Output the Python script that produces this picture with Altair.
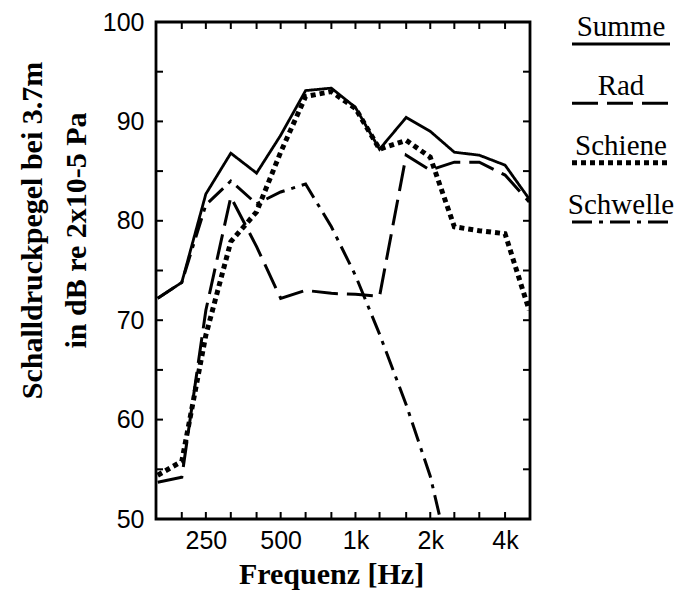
import altair as alt
import pandas as pd

freqs = [160, 200, 250, 315, 400, 500, 630, 800, 1000, 1250, 1600, 2000, 2500, 3150, 4000, 5000]
summe    = [72.2, 73.8, 82.7, 86.8, 84.8, 88.6, 93.1, 93.35, 91.4, 87.2, 90.4, 89.0, 86.9, 86.6, 85.6, 82.2]
rad      = [53.7, 54.2, 71.0, 82.4, 77.4, 72.2, 73.0, 72.7, 72.6, 72.4, 86.6, 85.1, 85.9, 85.9, 84.6, 81.9]
schiene  = [54.4, 55.8, 68.5, 77.9, 80.9, 86.9, 92.5, 93.0, 91.3, 87.2, 88.1, 86.4, 79.4, 79.0, 78.7, 71.0]
schwelle = [72.2, 73.8, 81.6, 84.0, 81.7, 82.9, 83.7, 79.4, 74.5, 68.6, 61.5, 54.3, 44.0]

names = ["Summe", "Rad", "Schiene", "Schwelle"]
x_tick_labels = [250, 500, 1000, 2000, 4000]
x_minor = [200, 250, 315, 400, 500, 630, 800, 1000, 1250, 1600, 2000, 2500, 3150, 4000]
y_ticks = [55, 60, 65, 70, 75, 80, 85, 90, 95]
y_labels = [50, 60, 70, 80, 90, 100]

series_vals = dict(zip(names, [summe, rad, schiene, schwelle]))
styles = {
    "Summe":    dict(strokeDash=[1, 0], strokeWidth=2.8),
    "Rad":      dict(strokeDash=[26, 9], strokeWidth=3),
    "Schiene":  dict(strokeDash=[5, 4], strokeWidth=5),
    "Schwelle": dict(strokeDash=[20, 7, 4, 7], strokeWidth=3),
}

W, H = 374, 497
xscale = alt.Scale(type="log", base=2, domain=[157.5, 5040], nice=False)
yscale = alt.Scale(domain=[50, 100], nice=False)

x_enc = alt.X("f:Q", scale=xscale, title="Frequenz [Hz]",
              axis=alt.Axis(values=x_tick_labels, ticks=False, domain=False, grid=False,
                            labelExpr="datum.value >= 1000 ? (datum.value/1000) + 'k' : datum.value",
                            labelFont="Liberation Sans", labelFontSize=25, labelColor="black",
                            labelPadding=9, labelFlush=False,
                            titleFont="Liberation Serif", titleFontSize=30, titleFontWeight="bold",
                            titleColor="black", titlePadding=6, titleX=175))
y_enc = alt.Y("L:Q", scale=yscale,
              title=["Schalldruckpegel bei 3.7m", "in dB re 2x10-5 Pa"],
              axis=alt.Axis(values=y_labels, ticks=False, domain=False, grid=False,
                            labelFont="Liberation Sans", labelFontSize=25, labelColor="black",
                            labelPadding=12,
                            titleFont="Liberation Serif", titleFontSize=30, titleFontWeight="bold",
                            titleColor="black", titlePadding=11, titleLineHeight=44,
                            titleY=208))

layers = []
for name in names:
    d = pd.DataFrame({"f": freqs[:len(series_vals[name])], "L": series_vals[name]})
    layers.append(alt.Chart(d).mark_line(color="black", clip=True, **styles[name]).encode(
        x=x_enc, y=y_enc))

xt = pd.DataFrame({"f": x_minor})
yt = pd.DataFrame({"L": y_ticks})
tick_style = dict(color="black", thickness=2, size=14, clip=True, opacity=1)
layers.append(alt.Chart(xt).mark_tick(orient="vertical", **tick_style).encode(
    x=alt.X("f:Q", scale=xscale), y=alt.value(0)))
layers.append(alt.Chart(xt).mark_tick(orient="vertical", **tick_style).encode(
    x=alt.X("f:Q", scale=xscale), y=alt.value(H)))
layers.append(alt.Chart(yt).mark_tick(orient="horizontal", **tick_style).encode(
    y=alt.Y("L:Q", scale=yscale), x=alt.value(0)))
layers.append(alt.Chart(yt).mark_tick(orient="horizontal", **tick_style).encode(
    y=alt.Y("L:Q", scale=yscale), x=alt.value(W)))

main = alt.layer(*layers).properties(
    width=W, height=H, view=alt.ViewBackground(stroke="black", strokeWidth=2.8))

leg_df = pd.DataFrame({"series": names})
leg_y = alt.Y("series:N", sort=names, axis=None,
              scale=alt.Scale(type="point", domain=names, range=[5, 183], padding=0))
leg_layers = [alt.Chart(leg_df).mark_text(font="Liberation Serif", fontSize=29, color="black",
                                          baseline="middle", align="center").encode(
    y=leg_y, x=alt.value(59), text="series:N")]
for name in names:
    leg_layers.append(
        alt.Chart(leg_df).transform_filter(alt.datum.series == name)
        .mark_rule(color="black", yOffset=17, **styles[name])
        .encode(y=leg_y, x=alt.value(10), x2=alt.value(108)))
legend = alt.layer(*leg_layers).properties(
    width=115, height=H, view=alt.ViewBackground(strokeOpacity=0))

chart = alt.hconcat(main, legend, spacing=30).resolve_scale(y="independent").configure(
    background="white", padding={"left": 7, "top": 0, "right": 0, "bottom": 0})

chart.save("out.html", embed_options={"renderer": "svg", "actions": False})
